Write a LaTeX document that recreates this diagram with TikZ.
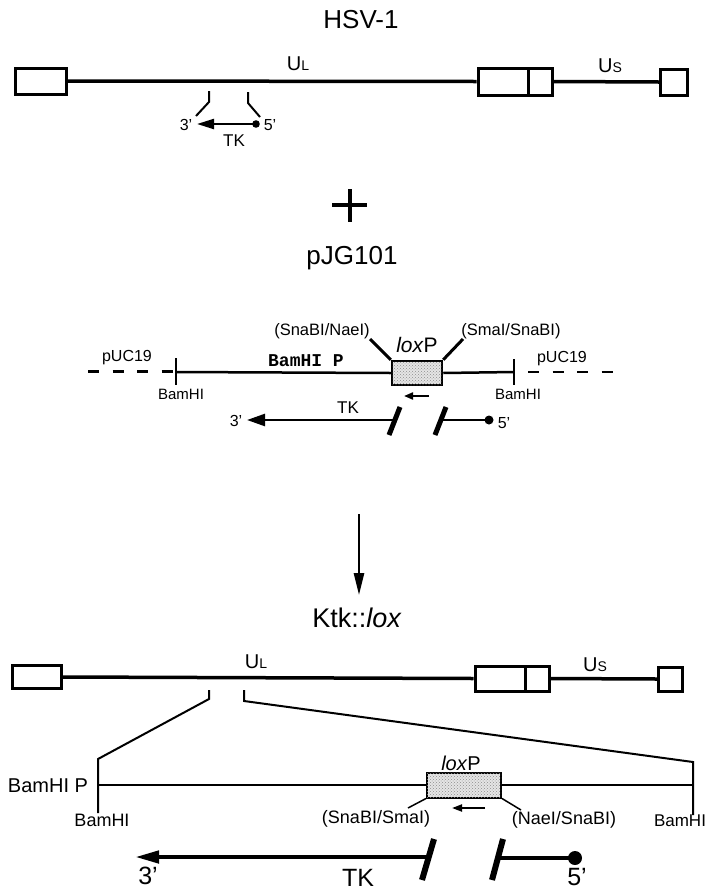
\documentclass[tikz,border=0pt]{standalone}
\usepackage{fontspec}
\setmainfont{Liberation Sans}
\setmonofont{Liberation Mono}
\usetikzlibrary{arrows.meta,patterns}
\newcommand\setfs[1]{\fontsize{#1}{#1}\selectfont}
\begin{document}
\begin{tikzpicture}[x=1pt,y=-1pt,
  hbox/.style={draw, line width=3pt, inner sep=0pt},
  dna/.style={line width=3.5pt},
  tickln/.style={line width=2pt},
  brk/.style={line width=5pt},
  dsh/.style={line width=2.5pt, dash pattern=on 11pt off 13.5pt},
  lab/.style={inner sep=0pt, font=\setfs{#1}},
  lab/.default=16,
  lox/.style={draw, inner sep=0pt, fill=gray!20, postaction={pattern=crosshatch dots, pattern color=gray!90}},
]
\useasboundingbox (0,0) rectangle (708,892);

% ---------------- HSV-1 ----------------
\node[lab=26] (title1) at (361,20) {HSV-1};
\node[hbox, minimum width=51pt, minimum height=26pt] (L1) at (41,81) {};
\node[hbox, minimum width=50pt, minimum height=27pt] (M1a) at (503,81.5) {};
\node[hbox, minimum width=24pt, minimum height=27pt] (M1b) at (540,81.5) {};
\node[hbox, minimum width=27pt, minimum height=26pt] (R1) at (674,82) {};
\draw[dna] (L1.east) -- (M1a.west);
\draw[dna] (M1b.east) -- (R1.west);
\node[lab=20] (UL1) at (298,64) {U{\setfs{14}L}};
\node[lab=20] (US1) at (610,66) {U{\setfs{14}S}};
\coordinate (a1) at (209,91); \coordinate (a2) at (209,102); \coordinate (a3) at (196,116);
\coordinate (b1) at (248,92); \coordinate (b2) at (248,103); \coordinate (b3) at (260,117);
\draw[tickln] (a1) -- (a2) -- (a3);
\draw[tickln] (b1) -- (b2) -- (b3);
\coordinate (tk1s) at (256,124); \coordinate (tk1e) at (197,124);
\draw[line width=2.2pt, -{Triangle[length=17pt,width=10pt]}] (tk1s) -- (tk1e);
\fill (tk1s) circle[radius=3.8pt];
\node[lab=16] (p31) at (186,125) {3'};
\node[lab=16] (p51) at (270,125) {5'};
\node[lab=17] (tklab1) at (234,141) {TK};

% ---------------- plus ----------------
\coordinate (pl1) at (332,205); \coordinate (pl2) at (367,205);
\coordinate (pl3) at (349.5,189); \coordinate (pl4) at (349.5,222);
\draw[line width=4pt] (pl1) -- (pl2);
\draw[line width=4pt] (pl3) -- (pl4);
\node[lab=26] (title2) at (352,258) {pJG101};

% ---------------- pJG101 ----------------
\node[lox, line width=2.5pt, minimum width=50pt, minimum height=24pt] (X2) at (417,373) {};
\coordinate (d1) at (88,371.5); \coordinate (d1e) at (173,371.5);
\coordinate (lb2) at (176,372);
\coordinate (rb2) at (514,372); \coordinate (d2) at (614,372);
\draw[line width=2.5pt] (lb2) -- (X2.west);
\draw[line width=2.5pt] (X2.east) -- (rb2);
\draw[dsh] (d1) -- (d1e);
\coordinate (rd2) at (528,372);
\draw[dsh] (rd2) -- (d2);
\coordinate (lt2a) at (176,358); \coordinate (lt2b) at (176,385);
\coordinate (rt2a) at (514,359); \coordinate (rt2b) at (514,385);
\draw[tickln] (lt2a) -- (lt2b);
\draw[tickln] (rt2a) -- (rt2b);
\coordinate (dl2) at (370,339); \coordinate (dr2) at (463,339);
\draw[line width=3pt] (X2.north west) -- (dl2);
\draw[line width=3pt] (X2.north east) -- (dr2);
\node[lab=16.5] (sn2) at (322,331) {(SnaBI/NaeI)};
\node[lab=16.5] (sm2) at (511,331) {(SmaI/SnaBI)};
\node[lab=21] (loxl2) at (417,345) {\textit{lox}P};
\node[inner sep=0pt, font=\ttfamily\bfseries\setfs{18}] (bp2) at (306,361) {BamHI P};
\node[lab=16] (pu2a) at (127,358) {pUC19};
\node[lab=16] (pu2b) at (562,359) {pUC19};
\node[lab=15] (bh2a) at (181,394) {BamHI};
\node[lab=15] (bh2b) at (518,394) {BamHI};
\coordinate (sa2s) at (429,396); \coordinate (sa2e) at (404,396);
\draw[line width=2pt, -{Triangle[length=9pt,width=7pt]}] (sa2s) -- (sa2e);
\node[lab=17] (tklab2) at (348,408) {TK};
\coordinate (br2a1) at (400,407); \coordinate (br2a2) at (389,435);
\coordinate (br2b1) at (446,407); \coordinate (br2b2) at (435,435);
\draw[brk] (br2a1) -- (br2a2);
\draw[brk] (br2b1) -- (br2b2);
\coordinate (tk2a) at (395,420); \coordinate (tk2tip) at (247,420);
\coordinate (tk2b) at (440,420); \coordinate (tk2dot) at (489,420);
\draw[line width=2.5pt, -{Triangle[length=18pt,width=12pt]}] (tk2a) -- (tk2tip);
\draw[line width=2.5pt] (tk2b) -- (tk2dot);
\fill (tk2dot) circle[radius=4.5pt];
\node[lab=16] (p32) at (236,421) {3'};
\node[lab=16] (p52) at (504,423) {5'};

% ---------------- down arrow ----------------
\coordinate (da1) at (359,514); \coordinate (da2) at (359,595);
\draw[line width=2.5pt, -{Triangle[length=22pt,width=10pt]}] (da1) -- (da2);
\node[lab=27] (title3) at (357,618) {Ktk::\textit{lox}};

% ---------------- Ktk::lox ----------------
\node[hbox, minimum width=49pt, minimum height=23pt] (L3) at (37,677) {};
\node[hbox, minimum width=50pt, minimum height=25pt] (M3a) at (500,678.5) {};
\node[hbox, minimum width=24pt, minimum height=25pt] (M3b) at (537,678.5) {};
\node[hbox, minimum width=24pt, minimum height=24pt] (R3) at (670.5,679) {};
\draw[dna] (L3.east) -- (M3a.west);
\draw[dna] (M3b.east) -- (R3.west);
\node[lab=20] (UL3) at (256,662) {U{\setfs{14}L}};
\node[lab=20] (US3) at (595,665) {U{\setfs{14}S}};
\coordinate (c1) at (209,690); \coordinate (c2) at (209,699);
\coordinate (c3) at (98,759); \coordinate (c4) at (98,813);
\coordinate (e1) at (244,690); \coordinate (e2) at (244,701);
\coordinate (e3) at (693,762); \coordinate (e4) at (693,815);
\draw[tickln] (c1) -- (c2) -- (c3) -- (c4);
\draw[tickln] (e1) -- (e2) -- (e3) -- (e4);
\node[lox, line width=2pt, minimum width=74pt, minimum height=25pt] (X3) at (464,785) {};
\coordinate (l3) at (98,785); \coordinate (r3) at (693,785);
\draw[line width=1.8pt] (l3) -- (X3.west);
\draw[line width=1.8pt] (X3.east) -- (r3);
\node[lab=20] (loxl3) at (461,763) {\textit{lox}P};
\coordinate (dl3) at (408,808); \coordinate (dr3) at (521,810);
\draw[line width=1.5pt] (X3.south west) -- (dl3);
\draw[line width=1.5pt] (X3.south east) -- (dr3);
\node[lab=18] (sn3) at (376,819) {(SnaBI/SmaI)};
\node[lab=18] (nae3) at (564,820) {(NaeI/SnaBI)};
\coordinate (sa3s) at (485,808); \coordinate (sa3e) at (452,808);
\draw[line width=2pt, -{Triangle[length=10pt,width=7pt]}] (sa3s) -- (sa3e);
\node[lab=20] (bp3) at (48,786) {BamHI P};
\node[lab=18] (bh3a) at (102,820) {BamHI};
\node[lab=17] (bh3b) at (680,821) {BamHI};
\coordinate (br3a1) at (434,839); \coordinate (br3a2) at (422,880);
\coordinate (br3b1) at (503,839); \coordinate (br3b2) at (492,880);
\draw[line width=6pt] (br3a1) -- (br3a2);
\draw[line width=6pt] (br3b1) -- (br3b2);
\coordinate (tk3a) at (428,857); \coordinate (tk3tip) at (135,857);
\coordinate (tk3b) at (498,858); \coordinate (tk3dot) at (575,858);
\draw[line width=4.5pt, -{Triangle[length=24pt,width=12pt]}] (tk3a) -- (tk3tip);
\draw[line width=4pt] (tk3b) -- (tk3dot);
\fill (tk3dot) circle[radius=7pt];
\node[lab=25] (p33) at (148,876) {3'};
\node[lab=25] (tklab3) at (358,878) {TK};
\node[lab=25] (p53) at (577,877) {5'};
\end{tikzpicture}
\end{document}
